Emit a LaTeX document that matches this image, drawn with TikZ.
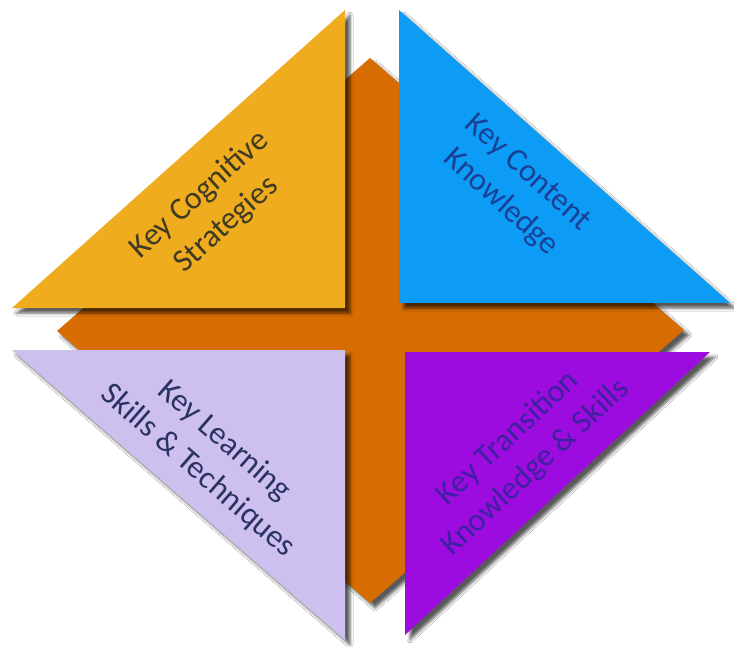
\documentclass[tikz,border=0pt]{standalone}
\usepackage{fontspec}
\setmainfont{Carlito}
\usetikzlibrary{shadows.blur}

\definecolor{rombo}{RGB}{214,108,2}
\definecolor{amarillo}{RGB}{238,172,30}
\definecolor{azul}{RGB}{12,156,246}
\definecolor{lila}{RGB}{206,192,238}
\definecolor{morado}{RGB}{156,12,222}
\definecolor{txtamarillo}{RGB}{62,58,36}
\definecolor{txtazul}{RGB}{26,64,150}
\definecolor{txtlila}{RGB}{42,50,100}
\definecolor{txtmorado}{RGB}{62,32,160}

\tikzset{
  sombra/.style={blur shadow={shadow xshift=5pt,shadow yshift=-5pt,
      shadow blur radius=3pt,shadow opacity=65}},
  rotulo/.style={align=center,inner sep=0pt,
      font=\fontsize{32}{40}\selectfont}
}

\begin{document}
\begin{tikzpicture}[x=1pt,y=-1pt]
    \useasboundingbox[fill=white] (0,0) rectangle (734,647);

    % Rombo de fondo
    \coordinate (N) at (370,58);
    \coordinate (E) at (684,330);
    \coordinate (S) at (370,603);
    \coordinate (W) at (57,331);
    \fill[rombo,sombra] (N) -- (E) -- (S) -- (W) -- cycle;

    % Triangulo superior izquierdo
    \coordinate (A1) at (12,308);
    \coordinate (B1) at (345,308);
    \coordinate (C1) at (345,10);
    \fill[amarillo,sombra] (A1) -- (B1) -- (C1) -- cycle;
    \node[rotulo,rotate=42,text=txtamarillo] (cog) at (213,210)
        {Key Cognitive\\Strategies};

    % Triangulo superior derecho
    \coordinate (A2) at (399,10);
    \coordinate (B2) at (399,303);
    \coordinate (C2) at (730,303);
    \fill[azul,sombra] (A2) -- (B2) -- (C2) -- cycle;
    \node[rotulo,rotate=-42,text=txtazul] (cont) at (514,188)
        {Key Content\\Knowledge};

    % Triangulo inferior izquierdo
    \coordinate (A3) at (12,350);
    \coordinate (B3) at (345,350);
    \coordinate (C3) at (345,640);
    \fill[lila,sombra] (A3) -- (B3) -- (C3) -- cycle;
    \node[rotulo,rotate=-41,text=txtlila] (learn) at (211,456)
        {Key Learning\\Skills \& Techniques};

    % Triangulo inferior derecho
    \coordinate (A4) at (405,352);
    \coordinate (B4) at (710,352);
    \coordinate (C4) at (405,635);
    \fill[morado,sombra] (A4) -- (B4) -- (C4) -- cycle;
    \node[rotulo,rotate=43,text=txtmorado] (trans) at (522,453)
        {Key Transition\\Knowledge \& Skills};

\end{tikzpicture}
\end{document}
